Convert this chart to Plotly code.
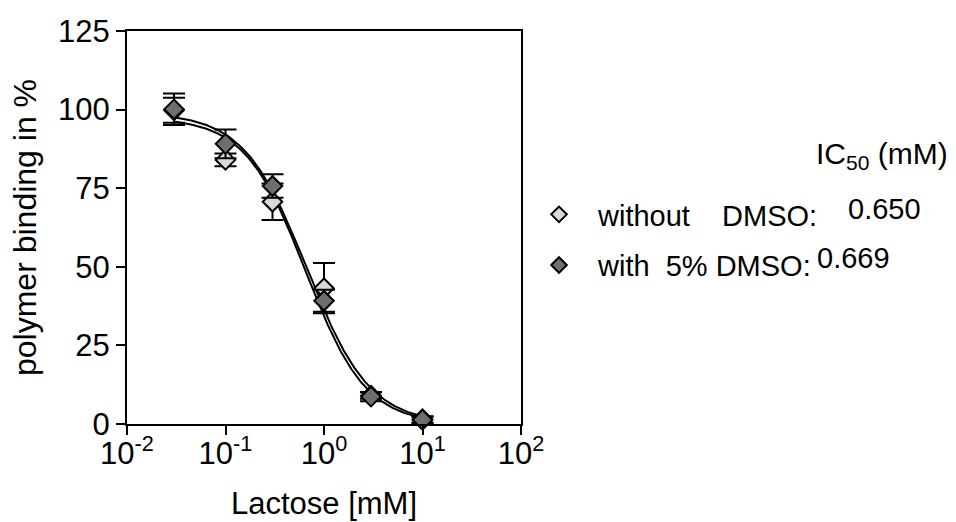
import numpy as np
import plotly.graph_objects as go

# Lactose concentrations (mM)
lactose = [0.03, 0.1, 0.3, 1.0, 3.0, 10.0]

# polymer binding (%) and error, without DMSO
binding_no_dmso = [99.8, 84.0, 70.7, 43.2, 9.0, 1.5]
err_no_dmso = [4.0, 2.0, 5.8, 8.0, 1.0, 1.0]

# polymer binding (%) and error, with 5% DMSO
binding_dmso = [100.1, 89.1, 75.7, 39.2, 8.7, 1.3]
err_dmso = [5.0, 4.6, 3.7, 3.5, 1.5, 1.0]

# dose-response fit parameters (top, bottom, IC50 in mM, Hill slope)
fit_top = [97.4, 99.0]
fit_bottom = [0.0, 0.0]
ic50 = [0.650, 0.669]
hill = [1.42, 1.36]

series_names = ["without\u00a0\u00a0\u00a0\u00a0DMSO:", "with\u00a0\u00a05%\u00a0DMSO:"]
fill_colors = ["#d9d9d9", "#6e6e6e"]

x_tickvals = [0.01, 0.1, 1, 10, 100]
x_ticktext = ["10<sup>-2</sup>", "10<sup>-1</sup>", "10<sup>0</sup>", "10<sup>1</sup>", "10<sup>2</sup>"]
y_tickvals = [0, 25, 50, 75, 100, 125]

FONT = "Arial, Liberation Sans, sans-serif"

# plot-area geometry in pixels
W, H = 956, 522
L, R, T, B = 127, 435, 31, 98
PW, PH = W - L - R, H - T - B


def px_x(px):
    return (px - L) / PW


def px_y(py):
    return (H - B - py) / PH


fig = go.Figure()

# fitted curves over the measured range
xs = np.logspace(np.log10(lactose[0]), np.log10(lactose[-1]), 300)
for top, bot, c50, h in zip(fit_top, fit_bottom, ic50, hill):
    ys = bot + (top - bot) / (1 + (xs / c50) ** h)
    fig.add_trace(go.Scatter(x=xs, y=ys, mode="lines",
                             line=dict(color="black", width=2),
                             showlegend=False, hoverinfo="skip"))

# measured points with error bars
for i, (name, ys, err, color) in enumerate(zip(series_names,
                                              [binding_no_dmso, binding_dmso],
                                              [err_no_dmso, err_dmso],
                                              fill_colors)):
    fig.add_trace(go.Scatter(
        x=lactose, y=ys, mode="markers", name=name,
        legendgroup=f"g{i}",
        marker=dict(symbol="diamond", size=15, color=color,
                    line=dict(color="black", width=2)),
        error_y=dict(type="data", array=err, visible=True,
                     color="black", thickness=2, width=11),
        cliponaxis=False,
    ))

# IC50 header and values next to the legend rows
fig.add_annotation(
    text="IC<sub>50</sub> (mM)", xref="paper", yref="paper",
    x=px_x(950), y=px_y(155), xanchor="right", yanchor="middle",
    showarrow=False, font=dict(family=FONT, size=30, color="black"),
)
for val, (vx, vy) in zip(ic50, [(846, 209), (815, 258)]):
    fig.add_annotation(
        text=f"{val:.3f}", xref="paper", yref="paper",
        x=px_x(vx), y=px_y(vy), xanchor="left", yanchor="middle",
        showarrow=False,
        font=dict(family=FONT, size=29, color="black"),
    )

fig.update_layout(
    width=W, height=H,
    margin=dict(l=L, r=R, t=T, b=B),
    paper_bgcolor="white", plot_bgcolor="white",
    font=dict(family=FONT, size=31, color="black"),
    showlegend=True,
    legend=dict(x=px_x(520), y=px_y(189), xanchor="left", yanchor="top",
                font=dict(family=FONT, size=29, color="black"),
                itemsizing="constant", itemwidth=68, tracegroupgap=10,
                traceorder="grouped", bgcolor="rgba(0,0,0,0)"),
    xaxis=dict(
        type="log", range=[-2, 2],
        tickvals=x_tickvals, ticktext=x_ticktext,
        ticks="outside", ticklen=9, tickwidth=2, tickcolor="black",
        ticklabelstandoff=-8,
        showline=True, linewidth=2, linecolor="black", mirror=True,
        showgrid=False, zeroline=False, automargin=False,
        tickfont=dict(size=31),
        title=dict(text="Lactose [mM]", font=dict(size=31), standoff=22),
    ),
    yaxis=dict(
        range=[0, 125], tickvals=y_tickvals,
        ticks="outside", ticklen=9, tickwidth=2, tickcolor="black",
        showline=True, linewidth=2, linecolor="black", mirror=True,
        showgrid=False, zeroline=False, automargin=False,
        tickfont=dict(size=31),
        title=dict(text="polymer binding in %", font=dict(size=32), standoff=12),
    ),
)

fig.write_html("out.html")
